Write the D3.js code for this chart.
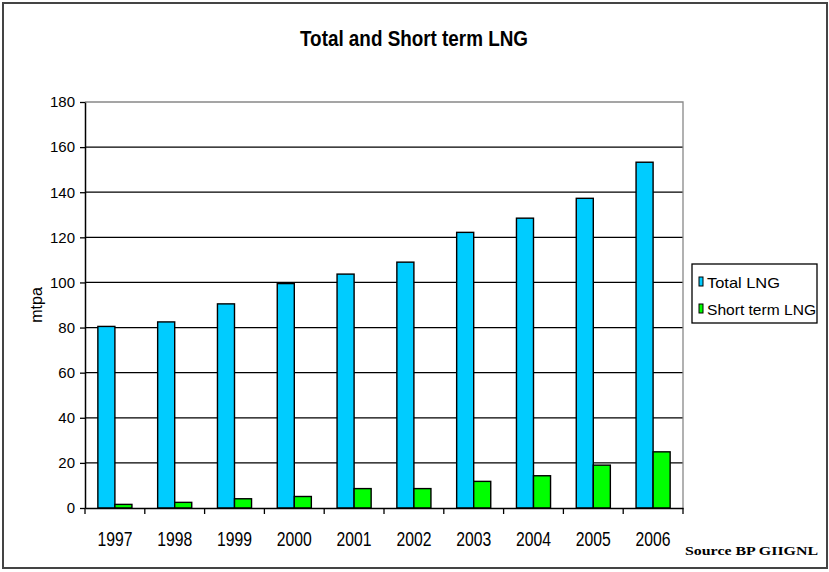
<!DOCTYPE html>
<html>
<head>
<meta charset="utf-8">
<script src="https://cdn.jsdelivr.net/npm/d3@7"></script>
<style>
  body { margin: 0; background: #fff; }
  svg { display: block; }
</style>
</head>
<body>
<div id="chart"></div>
<script>
var years = ["1997", "1998", "1999", "2000", "2001", "2002", "2003", "2004", "2005", "2006"];
var totalLNG = [80.5, 82.5, 90.5, 99.5, 103.7, 109, 122.2, 128.5, 137.3, 153.3];
var shortTermLNG = [1.6, 2.5, 4.1, 5.1, 8.6, 8.6, 11.8, 14.3, 19, 24.9];
var seriesNames = ["Total LNG", "Short term LNG"];
var seriesColors = ["#00ccff", "#00ff00"];
var yTicks = [0, 20, 40, 60, 80, 100, 120, 140, 160, 180];

var width = 829, height = 572;
var plot = {left: 85, right: 683, top: 102, bottom: 508};

var svg = d3.select("#chart").append("svg")
  .attr("width", width)
  .attr("height", height);

// outer frame
svg.append("rect")
  .attr("x", 3).attr("y", 3)
  .attr("width", 824).attr("height", 565)
  .attr("fill", "#fff")
  .attr("stroke", "#444")
  .attr("stroke-width", 2);

// title
svg.append("text")
  .attr("x", 414).attr("y", 46)
  .attr("text-anchor", "middle")
  .attr("font-family", "'Liberation Sans Narrow', 'Liberation Sans', Arial, sans-serif")
  .attr("font-weight", "bold")
  .attr("font-size", 22)
  .attr("textLength", 228)
  .attr("lengthAdjust", "spacingAndGlyphs")
  .text("Total and Short term LNG");

var x0 = d3.scaleBand()
  .domain(years)
  .range([plot.left, plot.right])
  .paddingInner(0.43)
  .paddingOuter(0.215);

var x1 = d3.scaleBand()
  .domain(seriesNames)
  .range([0, x0.bandwidth()]);

var y = d3.scaleLinear()
  .domain([0, 180])
  .range([plot.bottom, plot.top]);

// gridlines
svg.append("g")
  .selectAll("line")
  .data(yTicks.filter(function(d) { return d > 0 && d < 180; }))
  .enter().append("line")
  .attr("x1", plot.left).attr("x2", plot.right)
  .attr("y1", function(d) { return y(d); })
  .attr("y2", function(d) { return y(d); })
  .attr("stroke", "#000")
  .attr("stroke-width", 1.3);

// plot area border (top + right)
svg.append("path")
  .attr("d", "M" + plot.left + "," + y(180) + "H" + plot.right + "V" + plot.bottom)
  .attr("fill", "none")
  .attr("stroke", "#888")
  .attr("stroke-width", 1.3);

// bars
var rows = years.map(function(yr, i) {
  return {year: yr, values: [totalLNG[i], shortTermLNG[i]]};
});

var groups = svg.append("g").selectAll("g")
  .data(rows)
  .enter().append("g")
  .attr("transform", function(d) { return "translate(" + x0(d.year) + ",0)"; });

groups.selectAll("rect")
  .data(function(d) { return d.values.map(function(v, j) { return {name: seriesNames[j], value: v, j: j}; }); })
  .enter().append("rect")
  .attr("x", function(d) { return x1(d.name); })
  .attr("width", x1.bandwidth())
  .attr("y", function(d) { return y(d.value); })
  .attr("height", function(d) { return y(0) - y(d.value); })
  .attr("fill", function(d) { return seriesColors[d.j]; })
  .attr("stroke", "#000")
  .attr("stroke-width", 1.4);

// y axis
var yAxis = svg.append("g")
  .attr("transform", "translate(" + plot.left + ",0)")
  .call(d3.axisLeft(y).tickValues(yTicks).tickSize(5).tickPadding(5).tickSizeOuter(0));
yAxis.select(".domain").attr("stroke", "#000").attr("stroke-width", 1.5);
yAxis.selectAll(".tick line").attr("stroke", "#000").attr("stroke-width", 1.3);
yAxis.selectAll(".tick text")
  .attr("font-family", "'Liberation Sans', Arial, sans-serif")
  .attr("font-size", 15)
  .attr("fill", "#000");

// x axis
var xAxis = svg.append("g")
  .attr("transform", "translate(0," + plot.bottom + ")")
  .call(d3.axisBottom(x0).tickSize(0).tickPadding(38).tickSizeOuter(0));
xAxis.select(".domain").attr("stroke", "#000").attr("stroke-width", 1.5);
xAxis.selectAll(".tick text")
  .attr("font-family", "'Liberation Sans', Arial, sans-serif")
  .attr("font-size", 20)
  .attr("fill", "#000")
  .attr("dy", 0)
  .attr("textLength", 35)
  .attr("lengthAdjust", "spacingAndGlyphs");

// x ticks at category boundaries
var boundaries = years.map(function(yr) { return x0(yr) - (x0.step() - x0.bandwidth()) / 2; });
boundaries.push(plot.right);
xAxis.selectAll(".boundary")
  .data(boundaries)
  .enter().append("line")
  .attr("class", "boundary")
  .attr("x1", function(d) { return d; }).attr("x2", function(d) { return d; })
  .attr("y1", 0).attr("y2", 6)
  .attr("stroke", "#000")
  .attr("stroke-width", 1.3);

// y axis title
svg.append("text")
  .attr("transform", "translate(42,305) rotate(-90)")
  .attr("text-anchor", "middle")
  .attr("font-family", "'Liberation Sans', Arial, sans-serif")
  .attr("font-size", 16)
  .text("mtpa");

// legend
var legend = svg.append("g");
legend.append("rect")
  .attr("x", 692).attr("y", 264)
  .attr("width", 125).attr("height", 59)
  .attr("fill", "#fff")
  .attr("stroke", "#000")
  .attr("stroke-width", 1.3);

var legendBaselines = [288, 315];
var legendWidths = [73, 109];
seriesNames.forEach(function(name, i) {
  legend.append("rect")
    .attr("x", 699).attr("y", legendBaselines[i] - 11)
    .attr("width", 4).attr("height", 9)
    .attr("fill", seriesColors[i])
    .attr("stroke", "#000")
    .attr("stroke-width", 1);
  legend.append("text")
    .attr("x", 707).attr("y", legendBaselines[i])
    .attr("font-family", "'Liberation Sans', Arial, sans-serif")
    .attr("font-size", 15)
    .attr("textLength", legendWidths[i])
    .attr("lengthAdjust", "spacingAndGlyphs")
    .text(name);
});

// source note
svg.append("text")
  .attr("x", 685).attr("y", 555)
  .attr("font-family", "'Liberation Serif', 'Times New Roman', serif")
  .attr("font-weight", "bold")
  .attr("font-size", 13)
  .attr("textLength", 133)
  .attr("lengthAdjust", "spacingAndGlyphs")
  .text("Source BP GIIGNL");
</script>
</body>
</html>
